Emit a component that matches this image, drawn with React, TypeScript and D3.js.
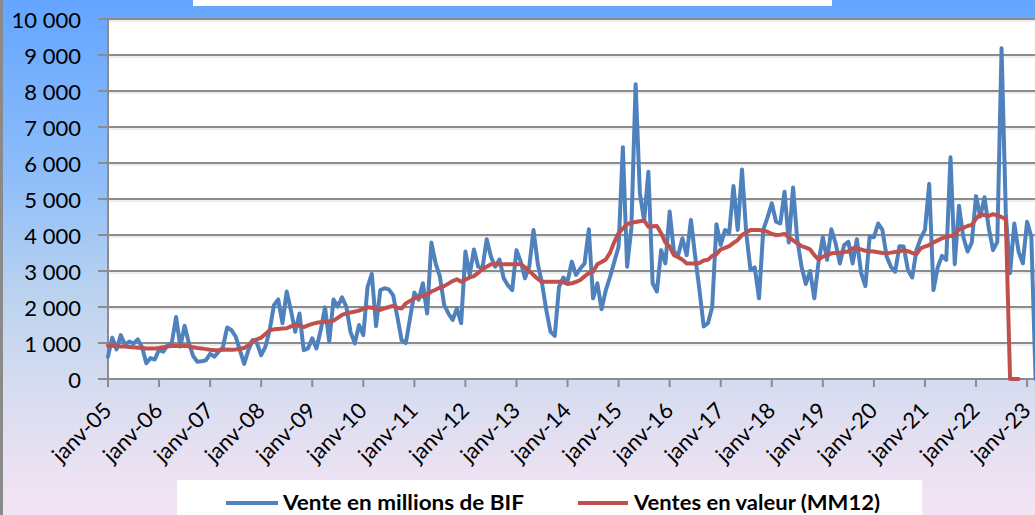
import React from "react";
import * as d3 from "d3";

const yTicks = [0, 1000, 2000, 3000, 4000, 5000, 6000, 7000, 8000, 9000, 10000];
const yearLabels = ["janv-05","janv-06","janv-07","janv-08","janv-09","janv-10","janv-11","janv-12","janv-13","janv-14","janv-15","janv-16","janv-17","janv-18","janv-19","janv-20","janv-21","janv-22","janv-23"];

// Monthly sales (millions BIF), Jan 2005 onwards
const ventes = [
  620,1150,820,1220,950,1040,980,1100,880,440,580,540,
  820,760,940,1000,1720,900,1480,1000,640,480,490,520,
  700,620,760,880,1430,1360,1180,800,420,800,1080,1000,
  660,900,1360,2050,2210,1550,2430,1900,1310,1820,800,850,
  1130,850,1360,1990,1040,2210,2010,2270,2010,1310,990,1500,
  1220,2560,2920,1470,2470,2520,2490,2330,1730,1080,1000,1700,
  2400,2200,2660,1820,3790,3210,2850,2060,1820,1640,1960,1550,
  3540,2890,3600,3120,3070,3880,3400,3120,3320,2800,2600,2470,
  3580,3260,2800,3120,4140,3200,2660,1920,1310,1200,2560,2820,
  2700,3260,2890,3070,3210,4160,2240,2660,1940,2470,2840,3260,
  3680,6440,3120,4190,8190,5160,4400,5760,2660,2430,3580,3210,
  4650,3540,3440,3910,3440,4420,3400,2470,1460,1550,2000,4300,
  3720,4140,4060,5360,4140,5820,4050,3030,3100,2240,4140,4490,
  4880,4370,4320,5200,3790,5320,3860,3120,2640,3000,2240,3260,
  3940,3310,4160,3770,3210,3720,3810,3210,3880,2940,2580,3950,
  3940,4320,4140,3400,3120,2980,3690,3680,3030,2820,3580,3910,
  4140,5420,2470,3100,3420,3310,6160,3190,4810,3950,3540,3790,
  5080,4510,5050,4190,3580,3810,9190,4600,2940,4320,3540,3210,
  4370,3950,0
];

// 12-month moving average (MM12)
const mm12 = [
  930,920,910,900,900,890,880,870,860,850,850,850,
  860,880,900,920,920,920,920,910,880,860,850,830,
  810,800,800,810,820,810,820,840,860,940,1060,1100,
  1150,1250,1350,1380,1390,1400,1410,1460,1500,1480,1440,1490,
  1530,1560,1580,1590,1600,1620,1700,1780,1820,1850,1870,1900,
  1950,1990,1980,1950,1920,1960,2000,2030,1980,1960,2100,2170,
  2240,2290,2290,2350,2430,2480,2540,2580,2650,2720,2770,2700,
  2760,2820,2860,2950,3050,3120,3190,3190,3190,3190,3190,3190,
  3190,3190,3100,3000,2890,2780,2700,2700,2700,2700,2700,2690,
  2640,2660,2700,2750,2850,2940,2980,3190,3250,3320,3510,3810,
  4050,4180,4300,4340,4360,4380,4400,4230,4240,4250,4050,3790,
  3680,3440,3380,3310,3210,3210,3210,3220,3290,3310,3420,3470,
  3600,3640,3690,3780,3860,4000,4070,4140,4140,4140,4120,4090,
  4030,4000,4010,4030,3940,3850,3770,3690,3650,3600,3440,3320,
  3400,3440,3490,3500,3510,3530,3540,3630,3630,3600,3560,3550,
  3540,3520,3500,3490,3510,3530,3540,3580,3550,3500,3470,3630,
  3680,3720,3790,3850,3910,3950,3970,4000,4160,4200,4250,4280,
  4450,4580,4550,4530,4580,4540,4500,4440,
  0,0,0
];

const legendLabels = ["Vente en millions de BIF", "Ventes en valeur (MM12)"];

const W = 1035, H = 515;
const PL = 108, PT = 19, PB = 379;
const monthPx = 4.255;

export default function App() {
  const x = d3.scaleLinear().domain([0, 218]).range([PL, PL + 218 * monthPx]);
  const y = d3.scaleLinear().domain([0, 10000]).range([PB, PT]);
  const line = d3.line<number>().x((_, i) => x(i)).y((d) => y(d));
  const fmt = (v: number) => d3.format(",")(v).replace(/,/g, " ");
  const font = "Lato, 'Open Sans', sans-serif";
  const gridColor = "#8c8c8c";

  return (
    <svg width={W} height={H} style={{ position: "absolute", left: 0, top: 0 }} fontFamily={font}>
      <defs>
        <linearGradient id="bg" x1="0" y1="0" x2="0" y2="1">
          <stop offset="0" stopColor="#64a5ff" />
          <stop offset="0.35" stopColor="#8fbef9" />
          <stop offset="0.58" stopColor="#bcd3ee" />
          <stop offset="0.75" stopColor="#d6dcf0" />
          <stop offset="1" stopColor="#f5e4f3" />
        </linearGradient>
      </defs>
      <rect x={0} y={0} width={W} height={H} fill="url(#bg)" />
      <rect x={0} y={0} width={3} height={H} fill="#8a8a8a" />
      <rect x={193} y={0} width={639} height={6} fill="#ffffff" />
      {/* plot area */}
      <rect x={PL} y={PT} width={W - PL} height={PB - PT} fill="#ffffff" />
      {yTicks.map((t) => (
        <g key={t}>
          {t > 0 && <line x1={PL} x2={W} y1={y(t) + 2} y2={y(t) + 2} stroke="#dcdcdc" strokeWidth={1} />}
          <line x1={PL - 10} x2={W} y1={y(t)} y2={y(t)} stroke={gridColor} strokeWidth={2} />
          <text x={81} y={y(t)} textAnchor="end" dominantBaseline="central" fontSize={22} fill="#000">
            {fmt(t)}
          </text>
        </g>
      ))}
      <line x1={PL} x2={PL} y1={PT} y2={PB} stroke={gridColor} strokeWidth={2} />
      {yearLabels.map((lab, i) => {
        const tx = x(i * 12);
        return (
          <g key={lab}>
            <line x1={tx} x2={tx} y1={PB} y2={PB + 8} stroke={gridColor} strokeWidth={2} />
            <text
              transform={`translate(${tx + 5},${412}) rotate(-45)`}
              textAnchor="end"
              fontSize={22}
              fill="#000"
            >
              {lab}
            </text>
          </g>
        );
      })}
      <path d={line(ventes) || ""} fill="none" stroke="#4F81BD" strokeWidth={4} strokeLinejoin="round" strokeLinecap="round" />
      <path d={line(mm12) || ""} fill="none" stroke="#C0504D" strokeWidth={4} strokeLinejoin="round" strokeLinecap="round" />
      {/* legend */}
      <rect x={177} y={480} width={745} height={35} fill="#ffffff" />
      <line x1={226} x2={278} y1={503} y2={503} stroke="#4F81BD" strokeWidth={4} />
      <text x={283} y={510} fontSize={20} fontWeight="bold" fill="#000" textLength={241} lengthAdjust="spacingAndGlyphs">
        {legendLabels[0]}
      </text>
      <line x1={578} x2={628} y1={503} y2={503} stroke="#C0504D" strokeWidth={4} />
      <text x={634} y={510} fontSize={20} fontWeight="bold" fill="#000" textLength={246} lengthAdjust="spacingAndGlyphs">
        {legendLabels[1]}
      </text>
    </svg>
  );
}
